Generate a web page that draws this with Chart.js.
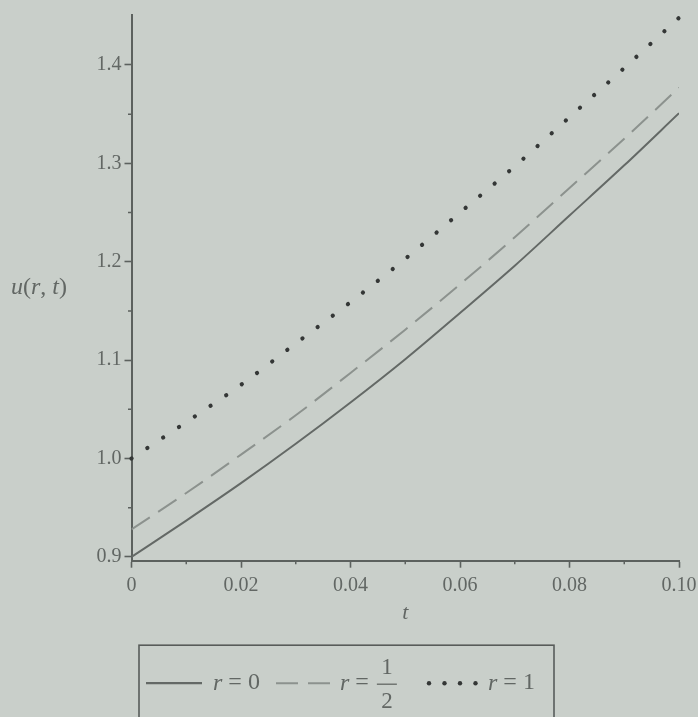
<!DOCTYPE html>
<html><head><meta charset="utf-8">
<script src="https://cdn.jsdelivr.net/npm/chart.js@4"></script>
<style>html,body{margin:0;padding:0;background:#c9cfca;}canvas{display:block;}</style>
</head><body>
<canvas id="c" width="698" height="717"></canvas>
<script>
// ---- data ----
const tValues = [0, 0.01, 0.02, 0.03, 0.04, 0.05, 0.06, 0.07, 0.08, 0.09, 0.10];
const uR0    = [0.900, 0.937, 0.975, 1.015, 1.057, 1.101, 1.148, 1.196, 1.247, 1.298, 1.351];
const uRHalf = [0.928, 0.965, 1.004, 1.044, 1.087, 1.131, 1.177, 1.225, 1.275, 1.325, 1.377];
const uR1    = [1.000, 1.037, 1.075, 1.117, 1.159, 1.203, 1.250, 1.297, 1.347, 1.397, 1.448];
const xTicks = [0, 0.02, 0.04, 0.06, 0.08, 0.10];
const xTickLabels = ["0", "0.02", "0.04", "0.06", "0.08", "0.10"];
const xMinorTicks = [0.01, 0.03, 0.05, 0.07, 0.09];
const yTicks = [0.9, 1.0, 1.1, 1.2, 1.3, 1.4];
const yTickLabels = ["0.9", "1.0", "1.1", "1.2", "1.3", "1.4"];
const yMinorTicks = [0.95, 1.05, 1.15, 1.25, 1.35];
const xRange = [0, 0.10];
const yRange = [0.8962, 1.4508];

const BG = 'rgb(201,207,202)';
const AXIS = 'rgb(92,97,94)';
const TXT = 'rgb(98,103,100)';
const C0 = 'rgb(100,105,102)';
const CH = 'rgb(140,146,142)';
const C1 = 'rgb(52,55,54)';
const SERIF = '"Liberation Serif", "DejaVu Serif", serif';

const pts = arr => tValues.map((t, i) => ({x: t, y: arr[i]}));

const bgPlugin = {
  id: 'bg',
  beforeDraw(chart) {
    const ctx = chart.ctx;
    ctx.save(); ctx.fillStyle = BG; ctx.fillRect(0, 0, chart.width, chart.height); ctx.restore();
  }
};

function drawRich(ctx, parts, x, y, size) {
  let cx = x;
  for (const [txt, italic] of parts) {
    ctx.font = (italic ? 'italic ' : '') + size + 'px ' + SERIF;
    ctx.fillText(txt, cx, y);
    cx += ctx.measureText(txt).width;
  }
  return cx;
}

const decoPlugin = {
  id: 'deco',
  afterDraw(chart) {
    const ctx = chart.ctx;
    const xs = chart.scales.x, ys = chart.scales.y;
    const ca = chart.chartArea;
    ctx.save();
    // minor ticks
    ctx.strokeStyle = AXIS; ctx.lineWidth = 1.5;
    ctx.beginPath();
    for (const v of xMinorTicks) { const px = xs.getPixelForValue(v); ctx.moveTo(px, ca.bottom); ctx.lineTo(px, ca.bottom + 3.5); }
    for (const v of yMinorTicks) { const py = ys.getPixelForValue(v); ctx.moveTo(ca.left, py); ctx.lineTo(ca.left - 3.5, py); }
    ctx.stroke();
    // y title, horizontal, at mid height
    ctx.fillStyle = TXT; ctx.textBaseline = 'middle'; ctx.textAlign = 'left';
    drawRich(ctx, [['u', true], ['(', false], ['r', true], [', ', false], ['t', true], [')', false]], ys.left + 11, (ca.top + ca.bottom) / 2, 24);
    // legend box
    const bx = ca.left + 7.5, by = ca.bottom + 84.5, bw = 415, bh = 100;
    ctx.strokeStyle = 'rgb(88,92,90)'; ctx.lineWidth = 1.6;
    ctx.strokeRect(bx, by, bw, bh);
    const ly = by + 38;
    const ds = chart.data.datasets;
    // sample 1: solid
    ctx.setLineDash([]); ctx.strokeStyle = ds[0].borderColor; ctx.lineWidth = 2.2;
    ctx.beginPath(); ctx.moveTo(bx + 7, ly); ctx.lineTo(bx + 63, ly); ctx.stroke();
    ctx.fillStyle = TXT;
    drawRich(ctx, [['r', true], [' = 0', false]], bx + 74, ly, 24);
    // sample 2: dashed
    ctx.strokeStyle = ds[1].borderColor; ctx.lineWidth = 2; ctx.setLineDash([22, 10]);
    ctx.beginPath(); ctx.moveTo(bx + 137, ly); ctx.lineTo(bx + 191, ly); ctx.stroke();
    ctx.setLineDash([]);
    let ex = drawRich(ctx, [['r', true], [' = ', false]], bx + 201, ly, 24);
    // fraction 1/2
    ctx.font = '23px ' + SERIF; ctx.textAlign = 'center';
    const fx = ex + 12;
    ctx.fillText('1', fx, ly - 15);
    ctx.fillText('2', fx, ly + 19);
    ctx.lineWidth = 1.3; ctx.strokeStyle = TXT;
    ctx.beginPath(); ctx.moveTo(fx - 10, ly + 1); ctx.lineTo(fx + 10, ly + 1); ctx.stroke();
    ctx.textAlign = 'left';
    // sample 3: dots
    ctx.fillStyle = ds[2].borderColor;
    for (let i = 0; i < 4; i++) { ctx.beginPath(); ctx.arc(bx + 290 + i * 15.5, ly, 2.2, 0, Math.PI * 2); ctx.fill(); }
    ctx.fillStyle = TXT;
    drawRich(ctx, [['r', true], [' = 1', false]], bx + 349, ly, 24);
    ctx.restore();
  }
};

new Chart(document.getElementById('c'), {
  type: 'line',
  data: {
    datasets: [
      { label: 'r = 0', data: pts(uR0), borderColor: C0, borderWidth: 2, pointRadius: 0, cubicInterpolationMode: 'monotone' },
      { label: 'r = 1/2', data: pts(uRHalf), borderColor: CH, borderWidth: 2, borderDash: [22, 10], pointRadius: 0, cubicInterpolationMode: 'monotone' },
      { label: 'r = 1', data: pts(uR1), borderColor: C1, borderWidth: 4.2, borderDash: [0.1, 18.9], borderCapStyle: 'round', pointRadius: 0, cubicInterpolationMode: 'monotone', clip: false }
    ]
  },
  options: {
    responsive: false, animation: false, devicePixelRatio: 1,
    layout: { padding: { top: 15, right: 19, left: 0, bottom: 0 } },
    plugins: { legend: { display: false }, tooltip: { enabled: false } },
    scales: {
      x: {
        type: 'linear', min: xRange[0], max: xRange[1],
        afterFit(s) { s.height = 156.3; s.paddingLeft = 0; s.paddingRight = 0; },
        afterBuildTicks(s) { s.ticks = xTicks.map(v => ({value: v})); },
        border: { display: true, color: AXIS, width: 2 },
        grid: { drawOnChartArea: false, drawTicks: true, tickLength: 7, color: AXIS, tickWidth: 1.6 },
        ticks: { color: TXT, padding: 6, maxRotation: 0, font: { family: SERIF, size: 20 },
                 callback(v) { const i = xTicks.findIndex(t => Math.abs(t - v) < 1e-9); return i >= 0 ? xTickLabels[i] : ''; } },
        title: { display: true, text: 't', color: TXT, font: { family: SERIF, size: 22, style: 'italic' }, padding: { top: 0, bottom: 91 } }
      },
      y: {
        type: 'linear', min: yRange[0], max: yRange[1],
        afterFit(s) { s.width = 131.5; s.paddingTop = 0; s.paddingBottom = 0; },
        afterBuildTicks(s) { s.ticks = yTicks.map(v => ({value: v})); },
        border: { display: true, color: AXIS, width: 2 },
        grid: { drawOnChartArea: false, drawTicks: true, tickLength: 7, color: AXIS, tickWidth: 1.6 },
        ticks: { color: TXT, padding: 3, font: { family: SERIF, size: 20 },
                 callback(v) { const i = yTicks.findIndex(t => Math.abs(t - v) < 1e-9); return i >= 0 ? yTickLabels[i] : ''; } }
      }
    }
  },
  plugins: [bgPlugin, decoPlugin]
});
</script>
</body></html>
